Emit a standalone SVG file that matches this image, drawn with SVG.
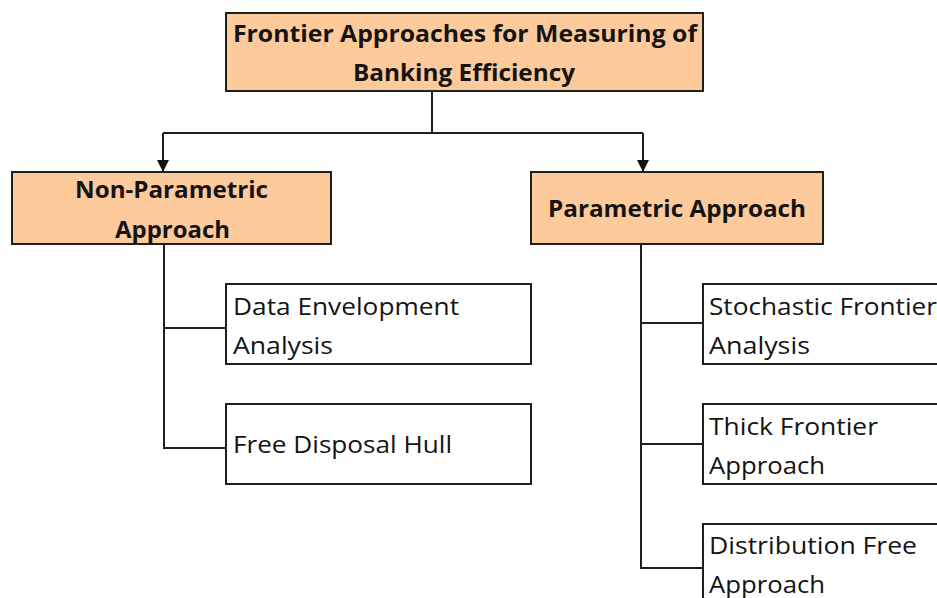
<svg xmlns="http://www.w3.org/2000/svg" width="937" height="598" viewBox="0 0 937 598">
  <style>
    .head { fill: #fdca9c; stroke: #1f1f1f; stroke-width: 2; }
    .leaf { fill: #ffffff; stroke: #1f1f1f; stroke-width: 2; }
    .t { font-family: "Open Sans", "Liberation Sans", sans-serif; font-size: 24px; fill: #141414; }
    .b { font-weight: bold; }
    .wire { fill: none; stroke: #1f1f1f; stroke-width: 2; }
  </style>
  <defs>
    <marker id="arrow" viewBox="0 0 12 12" refX="12" refY="6" markerWidth="12" markerHeight="12" markerUnits="userSpaceOnUse" orient="auto">
      <path d="M0,0 L12,6 L0,12 Z" fill="#111111"/>
    </marker>
  </defs>
  <rect width="937" height="598" fill="#ffffff"/>

  <g id="connectors">
    <path class="wire" d="M432,91 V133"/>
    <path class="wire" d="M163,133 H643"/>
    <path class="wire" d="M163,133 V172" marker-end="url(#arrow)"/>
    <path class="wire" d="M643,133 V172" marker-end="url(#arrow)"/>
    <path class="wire" d="M164,244 V448 H226"/>
    <path class="wire" d="M164,328 H226"/>
    <path class="wire" d="M641,244 V568 H703"/>
    <path class="wire" d="M641,323 H703"/>
    <path class="wire" d="M641,444 H703"/>
  </g>

  <g id="root">
    <rect class="head" x="226" y="13" width="477" height="78"/>
    <text class="t b" x="233" y="42" textLength="464" lengthAdjust="spacingAndGlyphs">Frontier Approaches for Measuring of</text>
    <text class="t b" x="353" y="81" textLength="222" lengthAdjust="spacingAndGlyphs">Banking Efficiency</text>
  </g>

  <g id="non-parametric">
    <rect class="head" x="12" y="172" width="319" height="72"/>
    <text class="t b" x="75" y="198" textLength="193" lengthAdjust="spacingAndGlyphs">Non-Parametric</text>
    <text class="t b" x="115" y="238" textLength="115" lengthAdjust="spacingAndGlyphs">Approach</text>
  </g>

  <g id="parametric">
    <rect class="head" x="531" y="172" width="292" height="72"/>
    <text class="t b" x="548" y="217" textLength="258" lengthAdjust="spacingAndGlyphs">Parametric Approach</text>
  </g>

  <g id="dea">
    <rect class="leaf" x="226" y="284" width="305" height="80"/>
    <text class="t" x="233" y="315" textLength="226" lengthAdjust="spacingAndGlyphs">Data Envelopment</text>
    <text class="t" x="233" y="354" textLength="100" lengthAdjust="spacingAndGlyphs">Analysis</text>
  </g>

  <g id="fdh">
    <rect class="leaf" x="226" y="404" width="305" height="80"/>
    <text class="t" x="233" y="453" textLength="219" lengthAdjust="spacingAndGlyphs">Free Disposal Hull</text>
  </g>

  <g id="sfa">
    <rect class="leaf" x="703" y="284" width="250" height="80"/>
    <text class="t" x="709" y="315" textLength="228" lengthAdjust="spacingAndGlyphs">Stochastic Frontier</text>
    <text class="t" x="709" y="354" textLength="101" lengthAdjust="spacingAndGlyphs">Analysis</text>
  </g>

  <g id="tfa">
    <rect class="leaf" x="703" y="404" width="250" height="80"/>
    <text class="t" x="709" y="435" textLength="169" lengthAdjust="spacingAndGlyphs">Thick Frontier</text>
    <text class="t" x="709" y="474" textLength="116" lengthAdjust="spacingAndGlyphs">Approach</text>
  </g>

  <g id="dfa">
    <rect class="leaf" x="703" y="524" width="250" height="90"/>
    <text class="t" x="709" y="554" textLength="208" lengthAdjust="spacingAndGlyphs">Distribution Free</text>
    <text class="t" x="709" y="593" textLength="116" lengthAdjust="spacingAndGlyphs">Approach</text>
  </g>
</svg>
